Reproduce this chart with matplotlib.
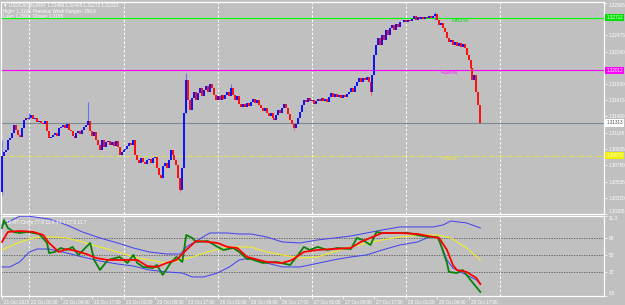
import matplotlib
matplotlib.use("agg")
import matplotlib.pyplot as plt
from matplotlib.transforms import blended_transform_factory, ScaledTranslation

plt.rcParams['font.family'] = ['Liberation Sans', 'DejaVu Sans']

# USDCAD M30 closes, one per bar (open = previous close)
first_open = 1.3040
closes = [
    1.3088, 1.3093, 1.3096, 1.3109, 1.3111, 1.3118, 1.3129, 1.3122, 1.3115, 1.3113,
    1.3125, 1.3135, 1.3138, 1.3137, 1.3138, 1.3142, 1.3137, 1.3138, 1.3133, 1.3134,
    1.3131, 1.3130, 1.3134, 1.3121, 1.3111, 1.3113, 1.3115, 1.3118, 1.3114, 1.3125,
    1.3126, 1.3129, 1.3125, 1.3130, 1.3122, 1.3121, 1.3114, 1.3111, 1.3118, 1.3121,
    1.3117, 1.3122, 1.3126, 1.3129, 1.3134, 1.3121, 1.3114, 1.3119, 1.3109, 1.3102,
    1.3096, 1.3109, 1.3099, 1.3106, 1.3107, 1.3102, 1.3106, 1.3101, 1.3107, 1.3099,
    1.3089, 1.3093, 1.3096, 1.3097, 1.3101, 1.3105, 1.3102, 1.3109, 1.3089, 1.3082,
    1.3078, 1.3085, 1.3080, 1.3077, 1.3082, 1.3084, 1.3078, 1.3085, 1.3086, 1.3072,
    1.3062, 1.3058, 1.3074, 1.3078, 1.3072, 1.3082, 1.3096, 1.3089, 1.3082, 1.3076,
    1.3058, 1.3042, 1.3072, 1.3145, 1.3188, 1.3162, 1.3149, 1.3164, 1.3172, 1.3162,
    1.3171, 1.3178, 1.3167, 1.3175, 1.3180, 1.3172, 1.3183, 1.3178, 1.3168, 1.3162,
    1.3167, 1.3162, 1.3168, 1.3163, 1.3168, 1.3172, 1.3167, 1.3178, 1.3168, 1.3162,
    1.3167, 1.3157, 1.3153, 1.3157, 1.3153, 1.3158, 1.3154, 1.3159, 1.3163, 1.3158,
    1.3162, 1.3155, 1.3151, 1.3147, 1.3151, 1.3145, 1.3141, 1.3145, 1.3138, 1.3135,
    1.3142, 1.3149, 1.3145, 1.3151, 1.3157, 1.3151, 1.3143, 1.3135, 1.3130, 1.3125,
    1.3130, 1.3138, 1.3146, 1.3155, 1.3162, 1.3159, 1.3165, 1.3161, 1.3162, 1.3157,
    1.3161, 1.3163, 1.3161, 1.3165, 1.3161, 1.3163, 1.3159, 1.3166, 1.3171, 1.3166,
    1.3170, 1.3166, 1.3168, 1.3165, 1.3168, 1.3166, 1.3170, 1.3172, 1.3178, 1.3172,
    1.3180, 1.3186, 1.3191, 1.3186, 1.3191, 1.3188, 1.3192, 1.3186, 1.3172, 1.3195,
    1.3222, 1.3235, 1.3244, 1.3235, 1.3248, 1.3241, 1.3255, 1.3248, 1.3257, 1.3261,
    1.3255, 1.3263, 1.3259, 1.3265, 1.3265, 1.3268, 1.3265, 1.3268, 1.3267, 1.3269,
    1.3273, 1.3268, 1.3272, 1.3269, 1.3272, 1.3269, 1.3272, 1.3271, 1.3273, 1.3271,
    1.3273, 1.3276, 1.3268, 1.3261, 1.3264, 1.3257, 1.3252, 1.3244, 1.3239, 1.3241,
    1.3235, 1.3239, 1.3233, 1.3237, 1.3232, 1.3236, 1.3231, 1.3222, 1.3215, 1.3204,
    1.3188, 1.3195, 1.3172, 1.3155, 1.31313,
]

# a few visible wicks
wick_bars = [0, 14, 44, 81, 91, 94, 117, 149, 188, 221]
wick_highs = [1.3109, 1.3145, 1.3159, 1.3062, 1.3058, 1.3198, 1.3183, 1.3130, 1.3186, 1.3279]
wick_lows = [1.3036, 1.3137, 1.3134, 1.3058, 1.3040, 1.3145, 1.3168, 1.3122, 1.3168, 1.3268]

r61 = 1.32712
r38 = 1.32012
pivot = 1.30879

price_ticks = [1.30105, 1.30320, 1.30535, 1.30750, 1.30965, 1.31185, 1.31400,
               1.31615, 1.31830, 1.32260, 1.32475, 1.32905]

label_bars = [0, 14, 30, 46, 62, 78, 94, 110, 126, 142, 158, 174, 190, 206, 222, 238]
date_labels = ['21 Oct 2015', '22 Oct 01:00', '22 Oct 09:00', '22 Oct 17:00',
               '23 Oct 01:00', '23 Oct 09:00', '23 Oct 17:00', '26 Oct 01:00',
               '26 Oct 09:00', '26 Oct 17:00', '27 Oct 01:00', '27 Oct 09:00',
               '27 Oct 17:00', '28 Oct 01:00', '28 Oct 09:00', '28 Oct 17:00']
day_bars = [14, 62, 110, 158, 206, 254]

# TDI indicator, sampled (bar, value)
upper_bars = [0, 9, 14, 24, 33, 41, 50, 59, 67, 75, 84, 91, 94, 100, 106, 115,
              121, 127, 135, 143, 152, 161, 178, 194, 203, 220, 225, 229, 237, 244]
upper_vals = [81.8, 91.0, 91.0, 88.1, 81.8, 74.4, 68.0, 62.7, 57.4, 53.2, 51.0,
              51.0, 58.5, 65.9, 73.3, 73.3, 72.2, 72.2, 69.1, 63.8, 62.7, 65.9,
              70.1, 76.5, 79.7, 79.7, 81.8, 86.0, 83.9, 78.6]
lower_bars = [0, 4, 9, 14, 18, 24, 33, 41, 50, 59, 67, 75, 84, 92, 97, 103, 110,
              116, 121, 127, 135, 143, 152, 157, 169, 178, 186, 194, 203, 212, 218,
              222, 225, 227, 230, 235, 242, 244]
lower_vals = [37.3, 37.3, 42.6, 53.2, 56.3, 56.3, 52.1, 47.9, 43.6, 40.4, 38.3,
              34.1, 32.0, 30.9, 26.7, 26.7, 30.9, 37.3, 44.7, 46.8, 41.5, 37.3,
              37.3, 39.4, 44.7, 47.9, 50.0, 55.3, 60.6, 63.8, 69.1, 69.1, 55.3,
              44.7, 36.2, 30.9, 23.5, 19.2]
base_bars = [0, 8, 16, 24, 33, 41, 50, 59, 67, 75, 84, 91, 97, 105, 115, 127,
             135, 143, 152, 161, 169, 178, 186, 194, 203, 215, 222, 229, 237, 244]
base_vals = [55.3, 62.7, 68.0, 69.1, 68.0, 63.8, 58.5, 53.2, 47.9, 44.7, 41.5,
             44.7, 47.9, 53.2, 58.5, 58.5, 53.2, 50.0, 46.8, 47.9, 53.2, 58.5,
             62.7, 65.9, 69.1, 71.2, 71.2, 68.0, 57.4, 44.7]
signal_bars = [0, 3, 9, 16, 21, 24, 29, 33, 38, 43, 48, 54, 59, 64, 69, 74, 79,
               84, 89, 94, 99, 105, 110, 115, 120, 125, 135, 143, 148, 154, 161,
               169, 178, 183, 189, 194, 203, 212, 220, 223, 227, 230, 232, 237,
               242, 244]
signal_vals = [63.8, 74.4, 75.4, 74.4, 71.2, 62.7, 53.2, 56.3, 54.2, 51.0, 46.8,
               44.7, 44.7, 44.7, 44.7, 38.3, 37.3, 41.5, 44.7, 55.3, 64.8, 63.8,
               62.7, 58.5, 57.4, 47.9, 42.6, 41.5, 44.7, 53.2, 55.3, 56.3, 57.4,
               63.8, 69.1, 73.3, 73.3, 72.2, 69.1, 68.0, 55.3, 39.4, 34.1, 32.0,
               25.6, 19.2]
rsi_bars = [0, 1, 3, 6, 9, 13, 16, 19, 23, 24, 27, 30, 33, 36, 39, 43, 45, 47,
            50, 54, 58, 60, 64, 67, 69, 72, 77, 79, 82, 86, 89, 92, 94, 97, 99,
            105, 110, 113, 118, 121, 125, 127, 133, 140, 147, 151, 154, 157, 161,
            166, 171, 178, 181, 184, 188, 191, 194, 199, 207, 212, 217, 222, 223,
            227, 228, 232, 235, 239, 244]
rsi_vals = [78.6, 87.1, 78.6, 74.4, 73.3, 74.4, 73.3, 72.2, 62.7, 52.1, 53.2,
            57.4, 55.3, 58.5, 50.0, 58.5, 62.7, 44.7, 34.1, 44.7, 46.8, 47.9,
            41.5, 50.0, 41.5, 37.3, 36.2, 39.4, 28.8, 41.5, 47.9, 42.6, 71.2,
            68.0, 63.8, 64.8, 58.5, 55.3, 57.4, 53.2, 45.7, 45.7, 41.5, 42.6,
            39.4, 50.0, 58.5, 55.3, 58.5, 55.3, 57.4, 56.3, 68.0, 65.9, 60.6,
            74.4, 73.3, 73.3, 73.3, 71.2, 69.1, 69.1, 65.9, 41.5, 32.0, 30.9,
            34.1, 23.5, 10.8]
tdi_levels = [32, 50, 68]
tdi_ticks = [6.5, 32, 50, 68, 91.3]
tdi_title = 'TDI-RT-Clone 77.8 11.9 44.4 17.5 11.7'

BG = '#c0c0c0'
W, H = 625, 305

fig = plt.figure(figsize=(W / 100, H / 100), dpi=100)
fig.patch.set_facecolor(BG)
ax = fig.add_axes([1 / W, (H - 214) / H, 603 / W, 212 / H])
ax2 = fig.add_axes([1 / W, (H - 296) / H, 603 / W, 80 / H])

for a in (ax, ax2):
    a.set_facecolor(BG)
    for s in a.spines.values():
        s.set_color('white')
        s.set_linewidth(0.9)
    a.set_xlim(-0.5, 307.1)
    for b in day_bars:
        a.axvline(b, color='white', lw=0.7, ls=(0, (2.5, 2)), zorder=1)
    a.yaxis.tick_right()
    a.tick_params(axis='y', length=2, width=0.5, pad=1.5, labelsize=3.3,
                  colors='white')

# candles
opens = [first_open] + closes[:-1]
for i, (o, c) in enumerate(zip(opens, closes)):
    col = '#0000ff' if c >= o else '#ff0000'
    lo, hi = min(o, c), max(o, c)
    if hi - lo < 0.00008:
        hi = lo + 0.00008
    ax.vlines(i, lo, hi, color=col, lw=1.3, zorder=3)
for b, h, l in zip(wick_bars, wick_highs, wick_lows):
    col = '#6f6ff0' if closes[b] >= opens[b] else '#f07070'
    ax.vlines(b, l, h, color=col, lw=0.8, zorder=2)

ax.axhline(r61, color='#00ff00', lw=0.8, zorder=2)
ax.axhline(r38, color='#ff00ff', lw=0.8, zorder=2)
ax.axhline(pivot, color='#e2e24e', lw=0.8, ls=(0, (4, 1.5, 1, 1.5)), zorder=2)
ax.axhline(closes[-1], color='#7e8a96', lw=0.8, zorder=2)

ax.text(229.5, r61, 'R61%', color='#00e000', fontsize=4.6, va='top', ha='left')
ax.text(223.5, r38, 'R38%', color='#ff20ff', fontsize=4.6, va='top', ha='left')
ax.text(224.5, pivot, 'Pivot', color='#e8e840', fontsize=4.6, va='top', ha='left')

ax.set_ylim(1.30105, 1.32918)
ax.set_yticks(price_ticks)
ax.set_yticklabels(['%.5f' % v for v in price_ticks])
ax.set_xticks([])
ylbls = ax.get_yticklabels()
ylbls[0].set_va('bottom')
ylbls[-1].set_va('top')

tr = blended_transform_factory(ax.transAxes, ax.transData)
boxes = [(r61, '#00e000', 'white'), (r38, '#ff00ff', 'white'),
         (closes[-1], 'white', '#505050'), (pivot, '#f0f000', 'white')]
for lvl, fc, tc in boxes:
    ax.text(1.004, lvl, '%.5f' % lvl, transform=tr, fontsize=3.3, color=tc,
            ha='left', va='center', clip_on=False,
            bbox=dict(facecolor=fc, edgecolor='none', pad=0.8))

# TDI panel
for lvl in tdi_levels:
    ax2.axhline(lvl, color='#555555', lw=0.6, ls=(0, (1.5, 1.5)), zorder=1)
ax2.plot(upper_bars, upper_vals, color='#4646f0', lw=0.75, zorder=3)
ax2.plot(lower_bars, lower_vals, color='#4646f0', lw=0.75, zorder=3)
ax2.plot(base_bars, base_vals, color='#f0f020', lw=0.75, zorder=3)
ax2.plot(rsi_bars, rsi_vals, color='#0a820a', lw=1.3, zorder=4)
ax2.plot(signal_bars, signal_vals, color='#ff0000', lw=1.3, zorder=5)
ax2.set_ylim(6.5, 91.3)
ax2.set_yticks(tdi_ticks)
ax2.set_yticklabels(['6.5', '32', '50', '68', '91.3'])
tlbls = ax2.get_yticklabels()
tlbls[0].set_va('bottom')
tlbls[-1].set_va('top')
ax2.text(3 / 603, 0.95, tdi_title, transform=ax2.transAxes, fontsize=3.4,
         color='white', ha='left', va='top')

ax2.set_xticks(label_bars)
ax2.set_xticklabels(date_labels, ha='left')
ax2.tick_params(axis='x', length=2, width=0.5, pad=1.2, labelsize=3.3,
                colors='white')
shift = ScaledTranslation(2 / 100, 0, fig.dpi_scale_trans)
for lbl in ax2.get_xticklabels():
    lbl.set_transform(lbl.get_transform() + shift)

# header
hdr = dict(fontsize=3.3, color='white', va='center', ha='left')
fig.text(3 / W, 1 - 5 / H,
         '\u25bc USDCADpfs,M30  1.31480 1.31498 1.31272 1.31313', **hdr)
fig.text(3 / W, 1 - 11 / H, 'High= 1.3198', **hdr)
fig.text(33 / W, 1 - 11 / H, 'Previous Week Ranges: 296.6', **hdr)
fig.text(3 / W, 1 - 17 / H, 'Low= 1.2901', **hdr)
fig.text(33 / W, 1 - 17 / H, 'Close= 1.3165', **hdr)

fig.savefig('out.png', dpi=100, facecolor=BG)
